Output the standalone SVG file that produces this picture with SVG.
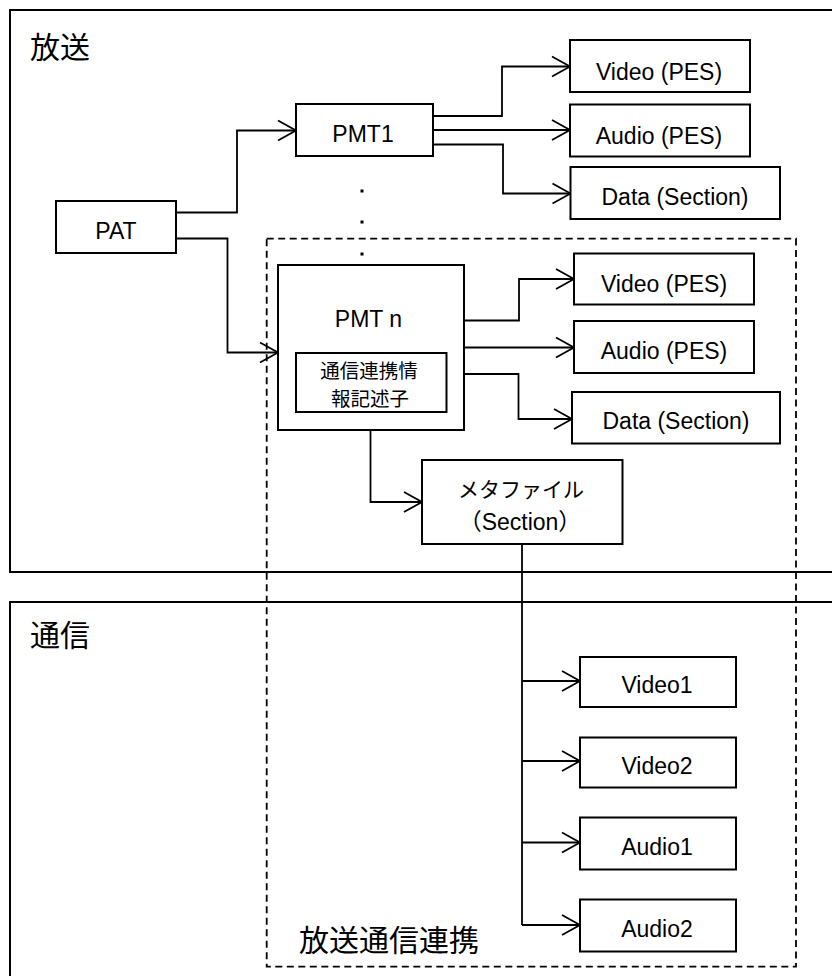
<svg xmlns="http://www.w3.org/2000/svg" width="832" height="976" viewBox="0 0 832 976">
<style>
.box{fill:#fff;stroke:#000;stroke-width:2}
.region{fill:none;stroke:#000;stroke-width:2}
.dash{fill:none;stroke:#000;stroke-width:1.8;stroke-dasharray:7 4.5}
.c{fill:none;stroke:#000;stroke-width:1.8}
.t{font-family:"Liberation Sans","Noto Sans CJK JP",sans-serif;font-size:23px;text-anchor:middle;fill:#000}
.j{font-family:"Noto Sans CJK JP",sans-serif;fill:#000}
</style>
<defs>
<marker id="arr" markerUnits="userSpaceOnUse" markerWidth="20" markerHeight="22" refX="18" refY="10" orient="auto" overflow="visible">
<path d="M0,0 L18,10 L0,20" fill="none" stroke="#000" stroke-width="1.8"/>
</marker>
</defs>
<rect width="832" height="976" fill="#fff"/>

<g id="region-broadcast">
<rect class="region" x="10" y="10" width="840" height="562"/>
<text class="j" x="30" y="58" font-size="30">放送</text>
</g>
<g id="region-comm">
<rect class="region" x="10" y="602" width="840" height="420"/>
<text class="j" x="30" y="646" font-size="30">通信</text>
</g>
<g id="region-linkage">
<rect class="dash" x="266.7" y="238.7" width="529.3" height="728"/>
<text class="j" x="299" y="951" font-size="30">放送通信連携</text>
</g>

<g id="dots">
<rect x="360.5" y="189.5" width="3" height="3" fill="#000"/>
<rect x="360.5" y="220.5" width="3" height="3" fill="#000"/>
<rect x="360.5" y="252.5" width="3" height="3" fill="#000"/>
</g>

<g id="connectors">
<path class="c" d="M176,212.5 H237 V130.5 H296" marker-end="url(#arr)"/>
<path class="c" d="M176,238.5 H227.5 V352.5 H278" marker-end="url(#arr)"/>
<path class="c" d="M433,116 H502 V66.5 H570" marker-end="url(#arr)"/>
<path class="c" d="M433,130 H570" marker-end="url(#arr)"/>
<path class="c" d="M433,144.5 H503 V193.5 H570.5" marker-end="url(#arr)"/>
<path class="c" d="M464,320.5 H519 V279 H574" marker-end="url(#arr)"/>
<path class="c" d="M464,347.5 H574" marker-end="url(#arr)"/>
<path class="c" d="M464,374 H518.5 V419 H572" marker-end="url(#arr)"/>
<path class="c" d="M370.5,412 V502 H422" marker-end="url(#arr)"/>
<path class="c" d="M522,544 V925"/>
<path class="c" d="M522,681 H580" marker-end="url(#arr)"/>
<path class="c" d="M522,761 H580" marker-end="url(#arr)"/>
<path class="c" d="M522,842.5 H580" marker-end="url(#arr)"/>
<path class="c" d="M522,925 H580" marker-end="url(#arr)"/>
</g>

<g id="pat">
<rect class="box" x="56" y="201" width="120" height="52"/>
<text class="t" x="116" y="239">PAT</text>
</g>
<g id="pmt1">
<rect class="box" x="296" y="104" width="137" height="52"/>
<text class="t" x="363" y="141.5">PMT1</text>
</g>
<g id="video-pes-1">
<rect class="box" x="570" y="40" width="180" height="52"/>
<text class="t" x="659" y="80">Video (PES)</text>
</g>
<g id="audio-pes-1">
<rect class="box" x="570" y="104.5" width="180" height="52"/>
<text class="t" x="659" y="143.5">Audio (PES)</text>
</g>
<g id="data-section-1">
<rect class="box" x="570.5" y="167" width="209.5" height="52"/>
<text class="t" x="675" y="205">Data (Section)</text>
</g>
<g id="pmtn">
<rect class="box" x="278" y="265" width="186" height="165"/>
<text class="t" x="368.5" y="326.5">PMT n</text>
<g id="descriptor">
<rect class="box" x="296" y="353" width="150.5" height="59"/>
<text class="j" font-size="19.5" text-anchor="middle"><tspan x="369" y="378">通信連携情</tspan><tspan x="370" y="406">報記述子</tspan></text>
</g>
</g>
<g id="video-pes-2">
<rect class="box" x="574" y="253.5" width="180" height="51"/>
<text class="t" x="664" y="291.5">Video (PES)</text>
</g>
<g id="audio-pes-2">
<rect class="box" x="574" y="321" width="180" height="52"/>
<text class="t" x="664" y="359">Audio (PES)</text>
</g>
<g id="data-section-2">
<rect class="box" x="572" y="392" width="208" height="51.5"/>
<text class="t" x="676" y="428.5">Data (Section)</text>
</g>
<g id="metafile">
<rect class="box" x="422" y="460" width="200.5" height="84"/>
<text text-anchor="middle"><tspan class="j" x="521" y="497" font-size="21">メタファイル</tspan><tspan class="t" x="520" y="530">（Section）</tspan></text>
</g>
<g id="video1">
<rect class="box" x="580" y="657" width="156" height="50"/>
<text class="t" x="657" y="693">Video1</text>
</g>
<g id="video2">
<rect class="box" x="580" y="737.5" width="156" height="50"/>
<text class="t" x="657" y="773.5">Video2</text>
</g>
<g id="audio1">
<rect class="box" x="580" y="817.5" width="156" height="52"/>
<text class="t" x="657" y="855">Audio1</text>
</g>
<g id="audio2">
<rect class="box" x="580" y="899.5" width="156" height="52"/>
<text class="t" x="657" y="936.5">Audio2</text>
</g>
</svg>
